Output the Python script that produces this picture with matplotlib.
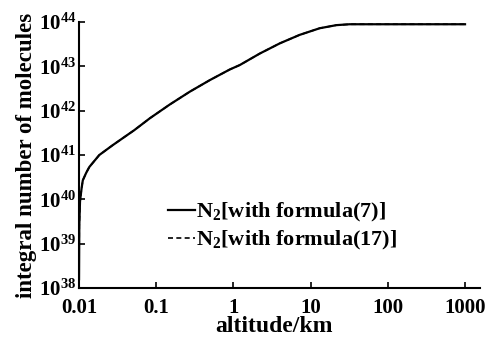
import matplotlib
matplotlib.use('Agg')
import matplotlib.pyplot as plt
import numpy as np
from matplotlib.ticker import FixedLocator, NullLocator

plt.rcParams['font.family'] = 'Liberation Serif'
plt.rcParams['font.weight'] = 'bold'
plt.rcParams['mathtext.fontset'] = 'custom'
plt.rcParams['mathtext.rm'] = 'Liberation Serif:bold'
plt.rcParams['mathtext.default'] = 'rm'

# altitude (km) vs integral number of N2 molecules (log10)
altitude = [0.01, 0.01008, 0.0103, 0.0108, 0.0112, 0.0124, 0.0136, 0.0183, 0.0272,
            0.0405, 0.0519, 0.0828, 0.15, 0.273, 0.495, 0.898, 1.21, 2.2, 4.0,
            7.2, 13.1, 21.6, 32, 100, 1000]
log_n_f7 = [38.2, 39.4, 39.95, 40.25, 40.43, 40.6, 40.73, 41.0, 41.22,
            41.43, 41.56, 41.83, 42.14, 42.43, 42.69, 42.93, 43.03, 43.29, 43.52,
            43.71, 43.86, 43.93, 43.95, 43.95, 43.95]
log_n_f17 = log_n_f7

n_f7 = [10**v for v in log_n_f7]
n_f17 = [10**v for v in log_n_f17]

xticks = [0.01, 0.1, 1, 10, 100, 1000]
xticklabels = ['0.01', '0.1', '1', '10', '100', '1000']
yexp = [38, 39, 40, 41, 42, 43, 44]

fig = plt.figure(figsize=(4.92, 3.39), dpi=100)
ax = fig.add_axes([0.1606, 0.1504, 0.815, 0.7846])

ax.plot(altitude, n_f17, color='black', lw=1.2, ls=(0, (3, 2)), label='N$_2$[with formula(17)]', zorder=2)
ax.plot(altitude, n_f7, color='black', lw=1.6, label='N$_2$[with formula(7)]', zorder=3)

ax.set_xscale('log')
ax.set_yscale('log')
ax.set_xlim(0.01, 1563)
ax.set_ylim(1e38, 1e44)

ax.xaxis.set_major_locator(FixedLocator(xticks))
ax.set_xticklabels(xticklabels)
ax.xaxis.set_minor_locator(NullLocator())
ax.yaxis.set_major_locator(FixedLocator([10.0**e for e in yexp]))
ax.set_yticklabels(['10$^{%d}$' % e for e in yexp])
ax.yaxis.set_minor_locator(NullLocator())

ax.tick_params(direction='in', length=4, width=1.2, labelsize=15)
ax.tick_params(axis='x', pad=7)
ax.tick_params(axis='y', pad=2)
for s in ['top', 'right']:
    ax.spines[s].set_visible(False)
for s in ['left', 'bottom']:
    ax.spines[s].set_linewidth(1.5)

ax.set_xlabel('altitude/km', fontsize=17, fontweight='bold')
ax.xaxis.set_label_coords(0.486, -0.105)
ax.set_ylabel('integral number of molecules', fontsize=16.5, fontweight='bold', labelpad=1)

h, l = ax.get_legend_handles_labels()
ax.legend(h[::-1], l[::-1], loc='lower left', bbox_to_anchor=(0.195, 0.094), frameon=False,
          fontsize=16, handlelength=1.2, handletextpad=0.05, labelspacing=0.2, borderpad=0)

fig.savefig('out.png', dpi=100)
